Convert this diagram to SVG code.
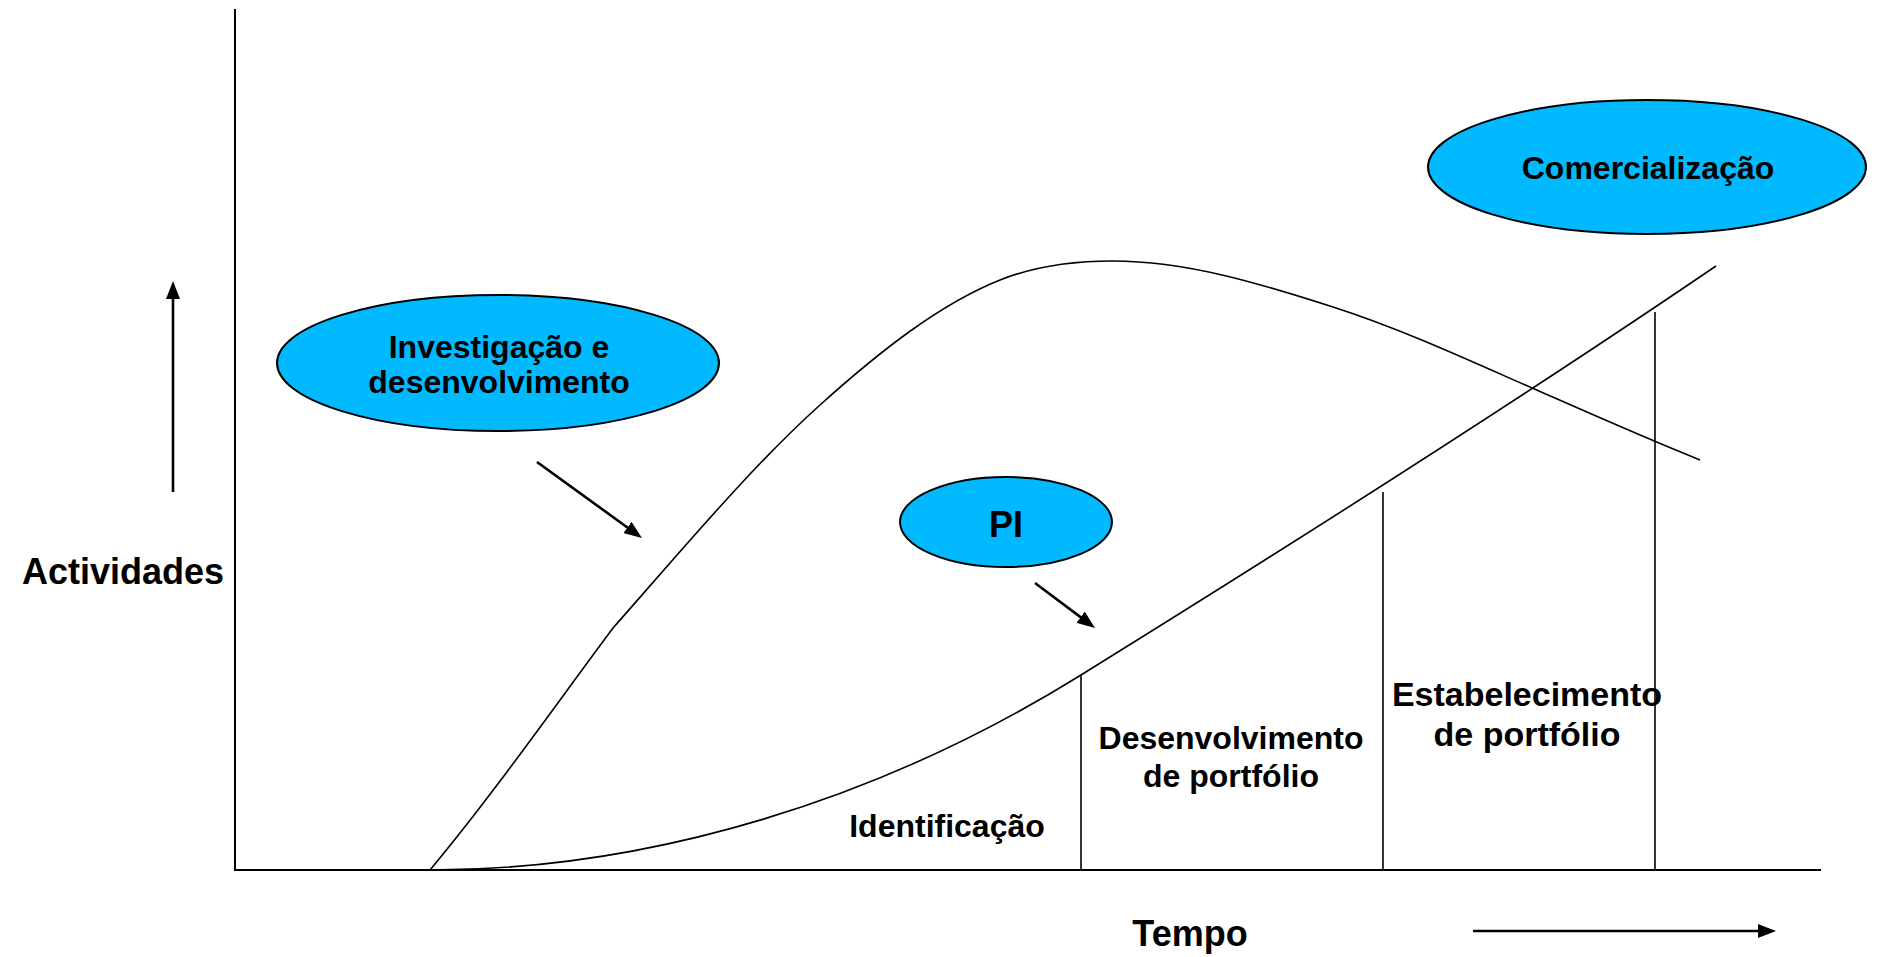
<svg xmlns="http://www.w3.org/2000/svg" width="1878" height="957" viewBox="0 0 1878 957">
<style>
.t{font-family:"Liberation Sans",Arial,sans-serif;font-weight:bold;fill:#000;text-anchor:middle}
.ell{fill:#00B9FF;stroke:#000;stroke-width:2}
.ln{fill:none;stroke:#000;stroke-width:2}
.thin{fill:none;stroke:#000;stroke-width:1.6}
.arr{fill:none;stroke:#000;stroke-width:2.6;marker-end:url(#ah)}
</style>
<defs>
<marker id="ah" markerUnits="userSpaceOnUse" markerWidth="18" markerHeight="14" refX="12" refY="7" orient="auto">
<path d="M0,0 L18,7 L0,14 z" fill="#000"/>
</marker>
</defs>
<rect width="1878" height="957" fill="#fff"/>
<g id="axes">
<line class="ln" x1="235" y1="9" x2="235" y2="871"/>
<line class="ln" x1="234" y1="870" x2="1821" y2="870"/>
</g>
<g id="connectors">
<path class="thin" d="M354,870 L430,870 C491,797 552,710 613,628 C682,550 751,467 820,405 C880,351 940,304 1000,280 C1037.7,265 1075.3,261 1113,261 C1186.3,261 1260,283.5 1333,307 C1399.3,328.2 1465.7,358.8 1532,388 C1588,412.6 1644,437.6 1700,460"/>
<path class="thin" d="M430,870 C650,870 880,800 1081,675 C1281,551 1516,402 1716,266"/>
<line class="thin" x1="1081" y1="675" x2="1081" y2="870"/>
<line class="thin" x1="1383" y1="492" x2="1383" y2="870"/>
<line class="thin" x1="1655" y1="312" x2="1655" y2="870"/>
<line class="arr" x1="537" y1="462" x2="637.1" y2="534.5"/>
<line class="arr" x1="1035" y1="583" x2="1090.2" y2="624.4"/>
<line class="arr" x1="173" y1="492" x2="173" y2="287"/>
<line class="arr" x1="1473" y1="931" x2="1770" y2="931"/>
</g>
<g id="node-id">
<ellipse class="ell" cx="498" cy="363" rx="221" ry="68"/>
<text class="t" x="499" y="358" font-size="32">Investigação e</text>
<text class="t" x="499" y="393" font-size="32">desenvolvimento</text>
</g>
<g id="node-pi">
<ellipse class="ell" cx="1006" cy="522" rx="106" ry="45"/>
<text class="t" x="1006" y="537" font-size="36">PI</text>
</g>
<g id="node-comercializacao">
<ellipse class="ell" cx="1647" cy="167" rx="219" ry="67"/>
<text class="t" x="1648" y="179" font-size="32">Comercialização</text>
</g>
<g id="labels">
<text class="t" x="123" y="584" font-size="36">Actividades</text>
<text class="t" x="1190" y="946" font-size="36">Tempo</text>
<text class="t" x="947" y="837" font-size="32">Identificação</text>
<text class="t" x="1231" y="749" font-size="32">Desenvolvimento</text>
<text class="t" x="1231" y="787" font-size="32">de portfólio</text>
<text class="t" x="1527" y="706" font-size="34">Estabelecimento</text>
<text class="t" x="1527" y="746" font-size="34">de portfólio</text>
</g>
</svg>
